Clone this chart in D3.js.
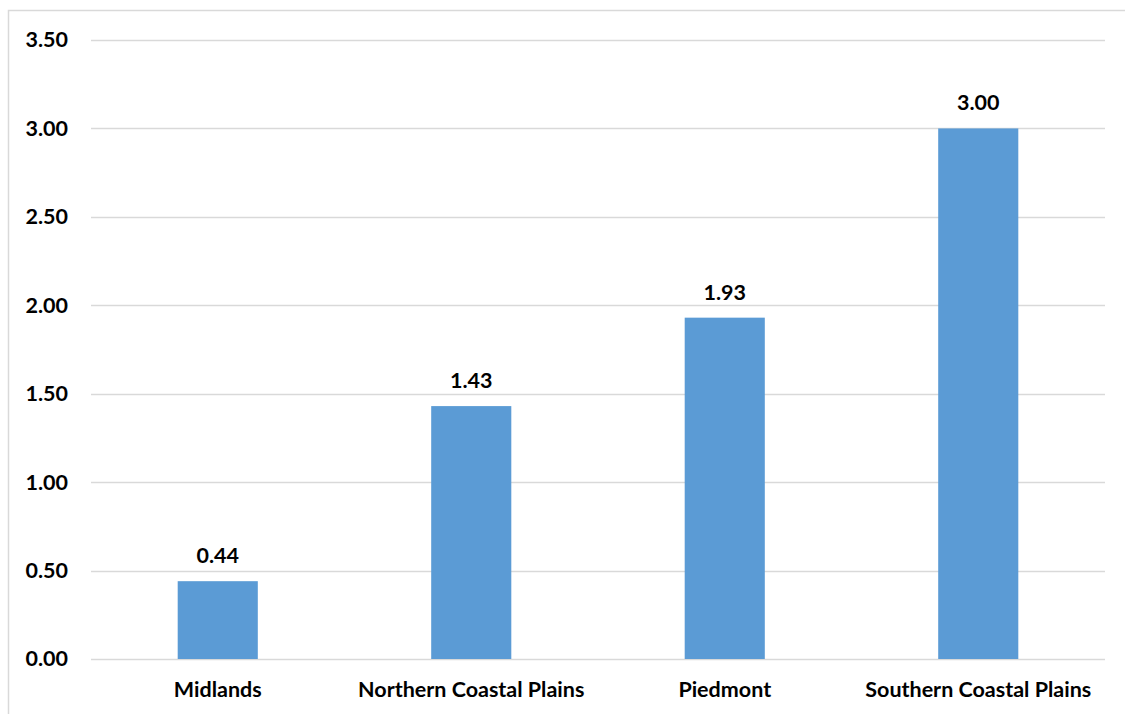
<!DOCTYPE html>
<html><head><meta charset="utf-8">
<script src="https://cdn.jsdelivr.net/npm/d3@7"></script>
<style>body{margin:0;background:#fff}svg{display:block}text{font-family:Lato,"Open Sans",sans-serif;font-weight:bold;fill:#000}</style>
</head><body><svg id="c" width="1125" height="714"></svg>
<script>
const categories = ["Midlands","Northern Coastal Plains","Piedmont","Southern Coastal Plains"];
const values = [0.44, 1.43, 1.93, 3.00];
const yTicks = [0,0.5,1,1.5,2,2.5,3,3.5];

const svg = d3.select("#c");
const mLeft = 91, mRight = 1105, mTop = 40, mBottom = 659;
const fs = 21.5;
// chart border
svg.append("path").attr("d","M8.5,714 V10.5 H1125").attr("fill","none").attr("stroke","#d9d9d9").attr("stroke-width",1.5);

const x = d3.scaleBand().domain(categories).range([mLeft,mRight]).paddingInner(0.684).paddingOuter(0.342);
const y = d3.scaleLinear().domain([0,3.5]).range([mBottom,mTop]);

svg.append("g").selectAll("line").data(yTicks).join("line")
  .attr("x1",mLeft).attr("x2",mRight).attr("y1",d=>Math.round(y(d))+0.5).attr("y2",d=>Math.round(y(d))+0.5)
  .attr("stroke","#d9d9d9").attr("stroke-width",1.5);

const yAxis = d3.axisLeft(y).tickValues(yTicks).tickFormat(d3.format(".2f")).tickSize(0).tickPadding(0);
const ga = svg.append("g").attr("transform","translate(68,0)").call(yAxis);
ga.select(".domain").remove();
ga.selectAll("text").attr("font-size",fs).style("font-family","Lato,sans-serif").attr("fill","#000");

svg.append("g").selectAll("text").data(values).join("text")
  .attr("x",(d,i)=>x(categories[i])+x.bandwidth()/2).attr("y",d=>y(d)-18)
  .attr("text-anchor","middle").attr("font-size",fs).text(d=>d3.format(".2f")(d));

svg.append("g").selectAll("rect").data(values).join("rect")
  .attr("x",(d,i)=>x(categories[i])).attr("width",x.bandwidth())
  .attr("y",d=>y(d)).attr("height",d=>y(0)-y(d)).attr("fill","#5b9bd5");

const xAxis = d3.axisBottom(x).tickSize(0).tickPadding(0);
const gx = svg.append("g").attr("transform","translate(0,684)").call(xAxis);
gx.select(".domain").remove();
gx.selectAll("text").attr("font-size",fs).style("font-family","Lato,sans-serif").attr("fill","#000").attr("y",13).attr("dy","0");
</script></body></html>
